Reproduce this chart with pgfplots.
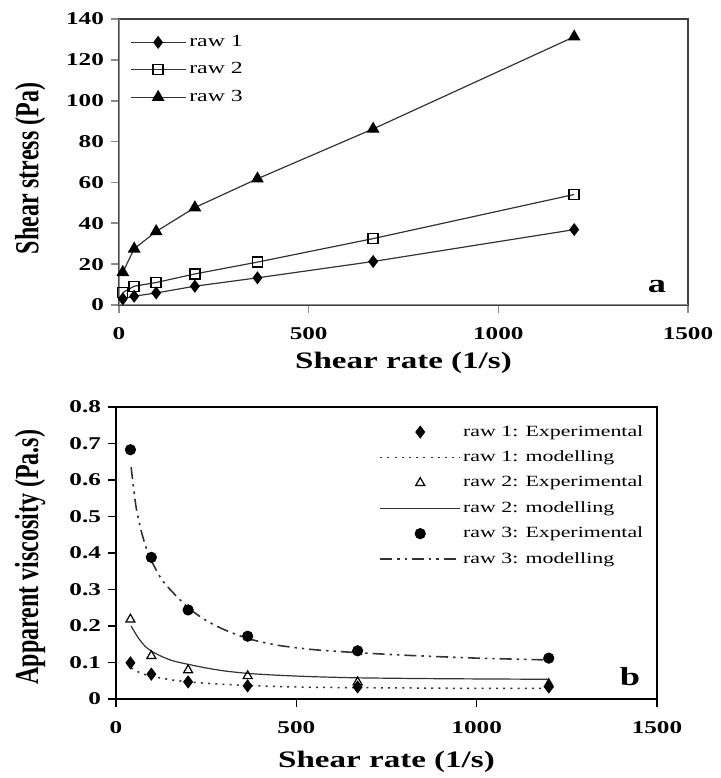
\documentclass[border=0pt]{standalone}
\usepackage{fontspec}
\setmainfont{Liberation Serif}[FakeStretch=1.4]
\newfontfamily\plainserif{Liberation Serif}
\usepackage{graphicx}
\usepackage{pgfplots}
\pgfplotsset{compat=1.18}
\definecolor{lnc}{HTML}{333333}
\pgfplotsset{
  lineleg/.style={legend image code/.code={\draw[##1] (0cm,0cm) -- (1.41cm,0cm);}},
  markleg/.style={legend image code/.code={\draw[##1] plot coordinates {(0.705cm,0cm)};}},
  common/.style={
    scale only axis, anchor=south west,
    xmin=0, xmax=1500, xtick={0,500,1000,1500},
    tick align=outside, xtick pos=bottom, ytick pos=left,
    major tick length=4pt,
    /pgf/number format/assume math mode=true,
    /pgf/number format/1000 sep={},
    ticklabel style={font=\fontsize{9}{10}\selectfont\bfseries},
    xticklabel style={yshift=-3.7pt},
    every axis x label/.style={at={(axis description cs:0.5,0)}, anchor=center},
    legend cell align=left,
  },
}
\begin{document}
\begin{tikzpicture}
\useasboundingbox (0,0) rectangle (360pt,389pt);
% ---------- panel a ----------
\begin{axis}[common,
  at={(59.5pt,236.5pt)}, width=284.5pt, height=143pt,
  ymin=0, ymax=140, ytick={0,20,...,140},
  axis line style={draw=black!75, line width=0.6pt},
  major tick style={draw=black!45, line width=0.8pt},
  xlabel={\fontsize{11.8}{13}\selectfont\bfseries Shear rate (1/s)},
  ylabel={\scalebox{1}[1.4]{\plainserif\bfseries\fontsize{12}{14}\selectfont Shear stress (Pa)}},
  x label style={yshift=-29pt},
  every axis y label/.style={at={(axis description cs:-0.156,0.477)}, anchor=center, rotate=90},
  legend style={at={(axis description cs:0.0185,0.9476)}, anchor=north west, draw=none, fill=none,
    inner sep=0pt, row sep=5.7pt, font=\fontsize{8.5}{9}\selectfont,
    nodes={text height=6pt, text depth=2pt, inner ysep=0pt, inner xsep=1.5pt}},
  legend image code/.code={\draw[mark repeat=2,mark phase=2,#1] plot coordinates {(0cm,0cm) (0.485cm,0cm) (0.97cm,0cm)};},
]
\addplot[color=lnc, line width=0.6pt, mark=diamond*, mark size=2.8pt, mark options={solid, fill=black, draw=black}]
  coordinates {(10,3) (40,4.3) (98,5.9) (200,9.2) (365,13.3) (670,21.3) (1200,36.9)};
\addlegendentry{raw 1}
\addplot[color=lnc, line width=0.6pt, mark=square, mark size=2.5pt, mark options={solid, fill=white, draw=black, line width=0.7pt}]
  coordinates {(10,6.1) (40,9.2) (98,11.0) (200,15.2) (365,21.0) (670,32.5) (1200,54.1)};
\addlegendentry{raw 2}
\addplot[color=lnc, line width=0.6pt, mark=triangle*, mark size=3.1pt, mark options={solid, fill=black, draw=black}]
  coordinates {(10,16.0) (40,27.5) (98,36.0) (200,47.7) (365,61.8) (670,86.2) (1200,131.3)};
\addlegendentry{raw 3}
\draw[black!45, line width=1.3pt] (rel axis cs:0,1) -- (rel axis cs:0,0) -- (rel axis cs:1,0);
\node[anchor=center, font=\fontsize{13}{14}\selectfont\bfseries] at (axis cs:1418,9) {a};
\end{axis}
% ---------- panel b ----------
\begin{axis}[common,
  at={(58pt,39.5pt)}, width=270.5pt, height=146pt,
  ymin=0, ymax=0.8, ytick={0,0.1,...,0.8},
  yticklabel style={/pgf/number format/fixed, /pgf/number format/precision=1},
  axis line style={draw=black, line width=0.9pt},
  major tick style={draw=black, line width=0.8pt},
  xlabel={\fontsize{11.8}{13}\selectfont\bfseries Shear rate (1/s)},
  ylabel={\scalebox{1}[1.4]{\plainserif\bfseries\fontsize{12}{14}\selectfont Apparent viscosity (Pa.s)}},
  x label style={yshift=-31.5pt},
  every axis y label/.style={at={(axis description cs:-0.159,0.486)}, anchor=center, rotate=90},
  legend style={at={(axis description cs:0.486,0.943)}, anchor=north west, draw=none, fill=none,
    inner sep=0pt, row sep=4.7pt, font=\fontsize{7.8}{9}\selectfont,
    nodes={text height=6pt, text depth=2pt, inner ysep=0pt, inner xsep=1pt}},
]
\addplot[only marks, markleg, mark=diamond*, mark size=3pt, mark options={fill=black, draw=black}]
  coordinates {(40,0.099) (98,0.068) (200,0.047) (365,0.036) (670,0.033) (1200,0.033)};
\addlegendentry{raw 1: Experimental}
\addplot[lineleg, color=lnc, line width=0.75pt, dash pattern=on 1pt off 2.6pt, smooth, tension=0.4]
  coordinates {(42,0.085) (60,0.075) (80,0.067) (100,0.062) (150,0.053) (200,0.047) (250,0.043) (300,0.040) (367,0.037) (450,0.034) (550,0.032) (670,0.031) (850,0.030) (1000,0.029) (1200,0.029)};
\addlegendentry{raw 1: modelling}
\addplot[only marks, markleg, mark=triangle, mark size=2.6pt, mark options={fill=white, draw=black, line width=0.6pt}]
  coordinates {(40,0.218) (98,0.118) (200,0.079) (365,0.063) (670,0.046) (1200,0.041)};
\addlegendentry{raw 2: Experimental}
\addplot[lineleg, color=lnc, line width=0.6pt, smooth, tension=0.4]
  coordinates {(42,0.200) (60,0.170) (80,0.145) (100,0.130) (130,0.115) (160,0.104) (200,0.095) (250,0.085) (300,0.077) (367,0.070) (450,0.065) (550,0.061) (670,0.058) (850,0.056) (1000,0.055) (1200,0.054)};
\addlegendentry{raw 2: modelling}
\addplot[only marks, markleg, mark=*, mark size=2.6pt, mark options={fill=black, draw=black}]
  coordinates {(40,0.683) (98,0.388) (200,0.244) (365,0.172) (670,0.132) (1200,0.112)};
\addlegendentry{raw 3: Experimental}
\addplot[lineleg, color=lnc, line width=0.8pt, dash pattern=on 6pt off 2.5pt on 1.2pt off 2.5pt on 1.2pt off 2.5pt, smooth, tension=0.4]
  coordinates {(42,0.635) (55,0.530) (70,0.460) (85,0.410) (100,0.375) (125,0.330) (150,0.300) (200,0.250) (250,0.215) (300,0.190) (367,0.165) (450,0.147) (550,0.135) (670,0.127) (800,0.120) (1000,0.112) (1200,0.107)};
\addlegendentry{raw 3: modelling}
\node[anchor=center, font=\fontsize{13}{14}\selectfont\bfseries] at (axis cs:1425,0.062) {b};
\end{axis}
\end{tikzpicture}
\end{document}
